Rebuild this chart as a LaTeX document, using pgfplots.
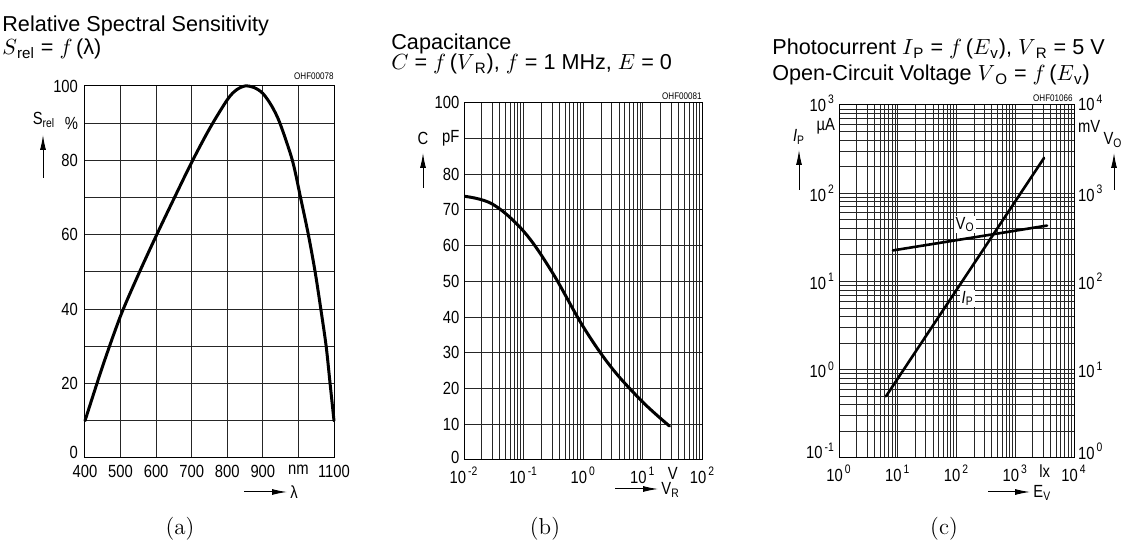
\documentclass[border=0pt]{standalone}
\usepackage{fontspec}
\setsansfont{Liberation Sans}
\renewcommand{\familydefault}{\sfdefault}
\newfontfamily\narrow[FakeStretch=0.84]{Liberation Sans}
\usepackage{pgfplots}
\pgfplotsset{compat=1.18}
\usetikzlibrary{arrows.meta}

\newcommand{\tp}[1]{10\textsuperscript{\,#1}}
% label lifted off the bottom edge without changing its box
\newcommand{\up}[2]{\raisebox{#1}[\height][\depth]{#2}}
\newcommand{\tickfont}{\narrow\fontsize{8.8}{9.5}\selectfont}
\newcommand{\titlefont}{\sffamily\fontsize{10.8}{13}\selectfont}
\newcommand{\codefont}{\narrow\fontsize{4.8}{5}\selectfont}

\pgfplotsset{
  datasheet/.style={
    scale only axis,
    anchor=south west,
    axis line style={black, line width=0.5pt},
    grid=both,
    major grid style={black!85, line width=0.5pt},
    minor grid style={black!85, line width=0.5pt},
    major tick length=0pt,
    minor tick length=0pt,
    tick label style={font=\tickfont},
  },
  curve/.style={black, line width=1.5pt, line join=round, line cap=round},
}

\begin{document}
\begin{tikzpicture}
\path[use as bounding box] (0,0) rectangle (562.5pt,272.5pt);

% (a) relative spectral sensitivity
\begin{axis}[datasheet, at={(42.5pt,43.5pt)}, width=124.5pt, height=186pt,
  xmin=400, xmax=1100, ymin=0, ymax=100, clip=false,
  xtick={400,500,...,1100},
  xticklabels={400,500,600,700,800,900,nm,1100},
  ytick={0,10,...,100},
  yticklabels={\up{3pt}{0},,20,,40,,60,,80,\%,100}]
\addplot[curve, smooth, tension=0.5] coordinates {
  (400,10) (450,24.8) (500,38.2) (550,49.3) (600,59.7) (650,69.7)
  (700,79.5) (750,88.5) (800,96.3) (825,98.9) (850,100) (875,99.6)
  (900,98) (925,94.6) (948,90) (983,80) (1006,70) (1028,60)
  (1047,50) (1063,40) (1078,30) (1089,20) (1100,10)};
\end{axis}

% (b) capacitance
\begin{axis}[datasheet, xmode=log, at={(232pt,42.5pt)}, width=119.2pt, height=178.7pt,
  xmin=0.01, xmax=100, ymin=0, ymax=100,
  xtick={0.01,0.1,1,10,100},
  xticklabels={\tp{-2},\tp{-1},\tp{0},\tp{1},\tp{2}},
  minor xtick={0.02,0.03,0.04,0.05,0.06,0.07,0.08,0.09,
               0.2,0.3,0.4,0.5,0.6,0.7,0.8,0.9,
               2,3,4,5,6,7,8,9,20,30,40,50,60,70,80,90},
  extra x ticks={31.8}, extra x tick labels={V},
  extra x tick style={grid=none},
  ytick={0,10,...,100},
  yticklabels={\up{1.5pt}{0},10,20,30,40,50,60,70,80,pF,100},
  yticklabel style={xshift=1.2pt}]
\addplot[curve, smooth, tension=0.6] coordinates {
  (0.01,73.8) (0.03,71.6) (0.1,64) (0.3,52.6) (1,37.3) (3,25.8)
  (10,16.2) (28,9.5)};
\end{axis}

% (c) photocurrent, left scale
\begin{axis}[datasheet, xmode=log, ymode=log, at={(419.5pt,43.5pt)},
  width=117.5pt, height=176.5pt,
  xmin=1, xmax=10000, ymin=0.1, ymax=1000,
  xtick={1,10,100,1000,10000},
  xticklabels={\tp{0},\tp{1},\tp{2},\tp{3},\tp{4}},
  minor xtick={2,3,4,5,6,7,8,9,20,30,40,50,60,70,80,90,
               200,300,400,500,600,700,800,900,
               2000,3000,4000,5000,6000,7000,8000,9000},
  extra x ticks={3162}, extra x tick labels={lx},
  extra x tick style={grid=none},
  ytick={0.1,1,10,100,1000},
  yticklabels={\up{3.5pt}{\tp{-1}},\tp{0},\tp{1},\tp{2},\up{1pt}{\tp{3}}},
  minor ytick={0.2,0.3,0.4,0.5,0.6,0.7,0.8,0.9,2,3,4,5,6,7,8,9,
               20,30,40,50,60,70,80,90,200,300,400,500,600,700,800,900},
  extra y ticks={575}, extra y tick labels={µA},
  extra y tick style={grid=none},
  yticklabel style={xshift=1.5pt}]
\addplot[curve, line width=1.3pt] coordinates {(6.3,0.5) (3090,251)};
\node[fill=white, inner sep=0.6pt, font=\tickfont] at (axis cs:140,44) {V\textsubscript{O}};
\node[fill=white, inner sep=0.6pt, font=\tickfont] at (axis cs:155,6.4) {\textit{I}\textsubscript{P}};
\end{axis}

% (c) open-circuit voltage, right scale
\begin{axis}[scale only axis, anchor=south west, xmode=log, ymode=log,
  at={(419.5pt,43.5pt)}, width=117.5pt, height=176.5pt,
  xmin=1, xmax=10000, ymin=1, ymax=10000,
  axis x line=none, axis y line*=right,
  axis line style={black, line width=0.5pt},
  major tick length=0pt, minor tick length=0pt,
  tick label style={font=\tickfont},
  ytick={1,10,100,1000,10000},
  yticklabels={\up{3.5pt}{\tp{0}},\tp{1},\tp{2},\tp{3},\up{1pt}{\tp{4}}},
  minor ytick={},
  extra y ticks={5750}, extra y tick labels={mV},
  yticklabel style={xshift=-1.5pt}]
\addplot[curve, line width=1.3pt] coordinates {(8.3,225) (3470,430)};
\end{axis}

% titles, quantity arrows and drawing codes
\begin{scope}[x=0.5pt, y=-0.5pt, yshift=272.5pt]
  \node[anchor=base west, font=\titlefont, inner sep=0] at (2,32) {Relative Spectral Sensitivity};
  \node[anchor=base west, font=\titlefont, inner sep=0] at (2,55) {$S$\textsubscript{rel} = $f$\,(λ)};
  \node[anchor=base west, font=\titlefont, inner sep=0] at (391,50) {Capacitance};
  \node[anchor=base west, font=\titlefont, inner sep=0] at (391,70) {$C$ = $f$\,($V$\textsubscript{R}), $f$ = 1 MHz, $E$ = 0};
  \node[anchor=base west, font=\titlefont, inner sep=0] at (772,55) {Photocurrent $I$\textsubscript{P} = $f$\,($E$\textsubscript{v}), $V$\textsubscript{R} = 5 V};
  \node[anchor=base west, font=\titlefont, inner sep=0] at (772,81) {Open-Circuit Voltage $V$\textsubscript{O} = $f$\,($E$\textsubscript{v})};

  \node[anchor=base east, font=\codefont, inner sep=0] at (334,79.5) {OHF00078};
  \node[anchor=base east, font=\codefont, inner sep=0] at (702,99.5) {OHF00081};
  \node[anchor=base east, font=\codefont, inner sep=0] at (1073,101.5) {OHF01066};

  \tikzset{qarrow/.style={line width=0.5pt, -{Latex[length=7.5pt, width=3pt]}}}
  % x quantities
  \draw[qarrow] (244,492) -- (287,492);
  \node[anchor=west, font=\tickfont, inner sep=1pt] at (288,492) {λ};
  \draw[qarrow] (615,489) -- (658,489);
  \node[anchor=west, font=\tickfont, inner sep=1pt] at (659,490) {V\textsubscript{R}};
  \draw[qarrow] (988,492) -- (1030,492);
  \node[anchor=west, font=\tickfont, inner sep=1pt] at (1031,493) {E\textsubscript{V}};
  % y quantities
  \draw[qarrow] (43,178) -- (43,135);
  \node[font=\tickfont] at (44,120) {S\textsubscript{rel}};
  \draw[qarrow] (423,188) -- (423,153);
  \node[font=\tickfont] at (423,138) {C};
  \draw[qarrow] (799,190) -- (799,150);
  \node[font=\tickfont] at (799,137) {\textit{I}\textsubscript{P}};
  \draw[qarrow] (1114,190) -- (1114,153);
  \node[font=\tickfont] at (1113,140) {V\textsubscript{O}};

  % sub-figure captions
  \node[anchor=base, font=\rmfamily\fontsize{11.5}{14}\selectfont, inner sep=0] at (180,535) {(a)};
  \node[anchor=base, font=\rmfamily\fontsize{11.5}{14}\selectfont, inner sep=0] at (545,535) {(b)};
  \node[anchor=base, font=\rmfamily\fontsize{11.5}{14}\selectfont, inner sep=0] at (944,535) {(c)};
\end{scope}
\end{tikzpicture}
\end{document}
